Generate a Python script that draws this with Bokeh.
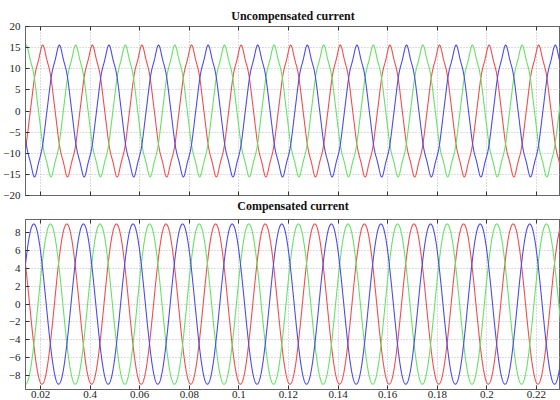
import numpy as np
from bokeh.plotting import figure
from bokeh.layouts import column
from bokeh.models import Range1d, FixedTicker, Title, LinearAxis
from bokeh.embed import file_html
from bokeh.resources import INLINE

# ---------------- data ----------------
freq_hz = 50.0
x_tick_values = [0.02, 0.04, 0.06, 0.08, 0.10, 0.12, 0.14, 0.16, 0.18, 0.20, 0.22]
x_tick_labels = ["0.02", "0.4", "0.06", "0.08", "0.1", "0.12", "0.14", "0.16", "0.18", "0.2", "0.22"]
top_y_ticks = [-20, -15, -10, -5, 0, 5, 10, 15, 20]
bottom_y_ticks = [-8, -6, -4, -2, 0, 2, 4, 6, 8]

# uncompensated (distorted) current: harmonic content
top_harmonic_orders = [1, 5, 7]
top_harmonic_amps = [14.8, 0.5, -0.3]
top_peak_times = [0.0209, 0.0276, 0.0342]      # red, blue, green phases

# compensated (sinusoidal) current
bottom_harmonic_orders = [1]
bottom_harmonic_amps = [9.0]
bottom_peak_times = [0.0306, 0.0373, 0.0240]   # red, blue, green phases

t_start, t_end = 0.01395, 0.2297

# ---------------- styling ----------------
phase_colors = ["#f04e4e", "#4c4ce8", "#66e266"]
draw_order = [0, 2, 1]
serif = "Liberation Serif"
axis_col = "#666666"


def waveform(t, peak_time, orders, amps):
    theta = 2 * np.pi * freq_hz * (t - peak_time) + np.pi / 2
    return sum(a * np.sin(k * theta) for k, a in zip(orders, amps))


def style_title(tt):
    tt.align = "center"
    tt.text_font = serif
    tt.text_font_size = "12px"
    tt.text_font_style = "bold"
    tt.text_color = "#111111"


def style_axis(ax):
    ax.major_tick_in = 4
    ax.major_tick_out = 0
    ax.minor_tick_line_color = None
    ax.axis_line_color = axis_col
    ax.major_tick_line_color = "#333333"
    ax.major_label_text_font = serif
    ax.major_label_text_font_size = "11px"
    ax.major_label_text_color = "#222222"


def hide_labels(ax):
    ax.major_label_text_font_size = "1px"
    ax.major_label_text_color = None
    ax.major_label_standoff = 0


def make_fig(y_ticks, y_lo, y_hi, height, show_x_labels, peaks, orders, amps,
             border_top, border_bottom):
    p = figure(width=560, height=height, x_range=Range1d(t_start, t_end),
               y_range=Range1d(y_lo, y_hi), output_backend="svg",
               toolbar_location=None, min_border_left=25, min_border_right=0,
               min_border_top=border_top, min_border_bottom=border_bottom)
    p.outline_line_color = axis_col
    p.background_fill_color = "white"

    t = np.linspace(t_start, t_end, 3000)
    for i in draw_order:
        p.line(t, waveform(t, peaks[i], orders, amps), line_color=phase_colors[i], line_width=1.1)

    xa = p.xaxis[0]
    xa.ticker = FixedTicker(ticks=x_tick_values)
    xa.major_label_overrides = {v: s for v, s in zip(x_tick_values, x_tick_labels)}
    ya = p.yaxis[0]
    ya.ticker = FixedTicker(ticks=y_ticks)
    style_axis(xa)
    style_axis(ya)
    ya.major_label_standoff = 5
    xa.major_label_standoff = 1
    if not show_x_labels:
        hide_labels(xa)

    top = LinearAxis(ticker=FixedTicker(ticks=x_tick_values))
    style_axis(top)
    hide_labels(top)
    p.add_layout(top, "above")

    p.xgrid[0].ticker = FixedTicker(ticks=x_tick_values)
    p.ygrid[0].ticker = FixedTicker(ticks=y_ticks)
    for g in (p.xgrid[0], p.ygrid[0]):
        g.grid_line_color = "#b8b8b8"
        g.grid_line_dash = "1 2"
        g.grid_line_width = 1
    return p


p1 = make_fig(top_y_ticks, -20, 20, 214, False,
              top_peak_times, top_harmonic_orders, top_harmonic_amps, 26, 19)
p1.title.text = "Uncompensated current"
style_title(p1.title)
p1.title.standoff = 8
t2 = Title(text="Compensated current", standoff=3)
style_title(t2)
p1.add_layout(t2, "below")

p2 = make_fig(bottom_y_ticks, -9.6, 9.5, 186, True,
              bottom_peak_times, bottom_harmonic_orders, bottom_harmonic_amps, 5, 0)

layout = column(p1, p2, spacing=0)
open("out.html", "w").write(file_html(layout, INLINE))
